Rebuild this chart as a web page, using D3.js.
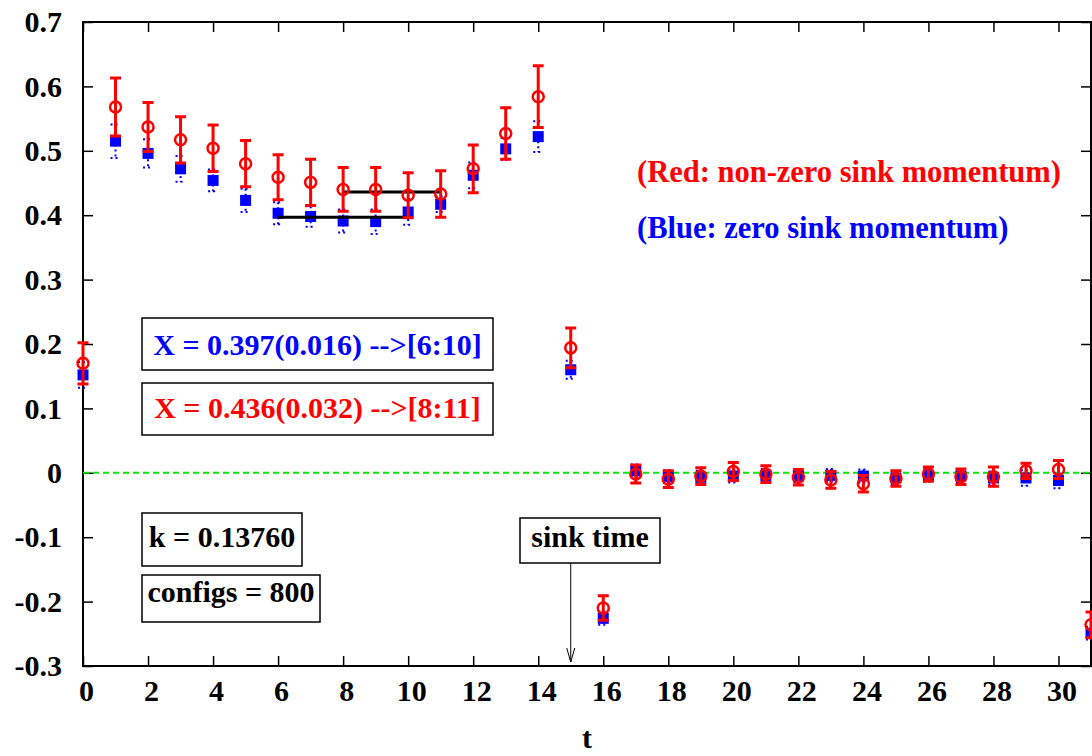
<!DOCTYPE html>
<html lang="en">
<head>
<meta charset="UTF-8">
<script src="https://d3js.org/d3.v7.min.js"></script>
<title>sink momentum plot</title>
<style>
body { margin: 0; background: #fff; }
svg text { font-family: "Liberation Serif", "Times New Roman", serif; font-weight: bold; }
</style>
</head>
<body>
<svg id="chart" width="1092" height="756"></svg>
<script>
// time slices
var tVals = d3.range(0, 32)

// red: non-zero sink momentum
var redVal = [0.170, 0.568, 0.537, 0.517, 0.504, 0.480, 0.459, 0.451, 0.440, 0.440, 0.431, 0.433,
              0.472, 0.527, 0.584, 0.194, -0.210, -0.002, -0.010, -0.005, 0.002, -0.002, -0.007,
              -0.011, -0.017, -0.009, -0.002, -0.006, -0.006, 0.003, 0.005, -0.236]
var redErr = [0.032, 0.045, 0.038, 0.036, 0.036, 0.036, 0.035, 0.036, 0.034, 0.034, 0.035, 0.036,
              0.037, 0.040, 0.048, 0.031, 0.019, 0.014, 0.013, 0.013, 0.014, 0.013, 0.012,
              0.013, 0.013, 0.012, 0.011, 0.012, 0.015, 0.012, 0.014, 0.020]

// blue: zero sink momentum
var blueVal = [0.152, 0.515, 0.496, 0.472, 0.454, 0.423, 0.403, 0.398, 0.391, 0.390, 0.405, 0.417,
               0.462, 0.503, 0.522, 0.160, -0.226, 0.003, -0.006, -0.007, -0.005, -0.004, -0.005,
               -0.004, -0.005, -0.008, -0.004, -0.005, -0.008, -0.008, -0.012, -0.249]
var blueErr = [0.020, 0.026, 0.022, 0.020, 0.017, 0.018, 0.017, 0.016, 0.018, 0.019, 0.020, 0.012,
               0.020, 0.017, 0.024, 0.014, 0.010, 0.010, 0.010, 0.010, 0.010, 0.010, 0.010,
               0.010, 0.010, 0.010, 0.010, 0.010, 0.010, 0.012, 0.012, 0.010]

// plateau fits
var fits = [
    {value: 0.397, from: 6, to: 10},
    {value: 0.436, from: 8, to: 11}
]

var xTicks = d3.range(0, 31, 2)
var yTicks = [-0.3, -0.2, -0.1, 0, 0.1, 0.2, 0.3, 0.4, 0.5, 0.6, 0.7]

var svg = d3.select("#chart"),
    margin = {top: 22, left: 83, right: 1091, bottom: 666}

var x = d3.scaleLinear().domain([0, 31]).range([margin.left, margin.right])
var y = d3.scaleLinear().domain([-0.3, 0.7]).range([margin.bottom, margin.top])

var fmt = d => d === 0 ? "0" : d.toFixed(1)

// axes with inward ticks, mirrored
svg.append("g")
    .attr("class", "x-axis")
    .attr("transform", `translate(0,${margin.bottom})`)
    .call(d3.axisBottom(x).tickValues(xTicks).tickSize(-10).tickPadding(14).tickFormat(d3.format("d")))
svg.append("g")
    .attr("transform", `translate(0,${margin.top})`)
    .call(d3.axisTop(x).tickValues(xTicks).tickSize(-10).tickFormat(""))
svg.append("g")
    .attr("transform", `translate(${margin.left},0)`)
    .call(d3.axisLeft(y).tickValues(yTicks).tickSize(-10).tickPadding(21).tickFormat(fmt))
svg.append("g")
    .attr("transform", `translate(${margin.right},0)`)
    .call(d3.axisRight(y).tickValues(yTicks).tickSize(-10).tickFormat(""))

svg.selectAll(".domain").remove()
svg.selectAll(".tick line").attr("stroke", "#000").attr("stroke-width", 1.5)
svg.selectAll(".tick text").attr("font-size", 30).attr("fill", "#000")
svg.selectAll(".x-axis .tick text").attr("dx", 3)

svg.append("rect")
    .attr("x", margin.left).attr("y", margin.top)
    .attr("width", margin.right - margin.left).attr("height", margin.bottom - margin.top)
    .attr("fill", "none").attr("stroke", "#000").attr("stroke-width", 2)

svg.append("text")
    .attr("x", (margin.left + margin.right) / 2).attr("y", 748)
    .attr("text-anchor", "middle").attr("font-size", 30)
    .text("t")

// zero line
svg.append("line")
    .attr("x1", x(0)).attr("x2", x(31)).attr("y1", y(0)).attr("y2", y(0))
    .attr("stroke", "#00e600").attr("stroke-width", 2).attr("stroke-dasharray", "6,4")

var blue = tVals.map((t, i) => ({t: t, v: blueVal[i], e: blueErr[i]}))
var red = tVals.map((t, i) => ({t: t, v: redVal[i], e: redErr[i]}))

// blue series
var gb = svg.append("g")
gb.selectAll(".bbar").data(blue).enter().append("path")
    .attr("d", d => `M${x(d.t)},${y(d.v + d.e)}V${y(d.v - d.e)}` +
        `M${x(d.t) - 5},${y(d.v + d.e)}h10M${x(d.t) - 5},${y(d.v - d.e)}h10`)
    .attr("stroke", "#0000ff").attr("stroke-width", 2).attr("stroke-dasharray", "2,3").attr("fill", "none")
gb.selectAll(".bpt").data(blue).enter().append("rect")
    .attr("x", d => x(d.t) - 5.5).attr("y", d => y(d.v) - 5.5)
    .attr("width", 11).attr("height", 11)
    .attr("fill", "#0000ff")

// fit lines
svg.selectAll(".fit").data(fits).enter().append("line")
    .attr("x1", d => x(d.from)).attr("x2", d => x(d.to))
    .attr("y1", d => y(d.value)).attr("y2", d => y(d.value))
    .attr("stroke", "#000").attr("stroke-width", 3)

// red series
var gr = svg.append("g")
gr.selectAll(".rbar").data(red).enter().append("path")
    .attr("d", d => `M${x(d.t)},${y(d.v + d.e)}V${y(d.v - d.e)}` +
        `M${x(d.t) - 5.5},${y(d.v + d.e)}h11M${x(d.t) - 5.5},${y(d.v - d.e)}h11`)
    .attr("stroke", "#ff0000").attr("stroke-width", 3).attr("fill", "none")
gr.selectAll(".rpt").data(red).enter().append("circle")
    .attr("cx", d => x(d.t)).attr("cy", d => y(d.v)).attr("r", 5.5)
    .attr("fill", "none").attr("stroke", "#ff0000").attr("stroke-width", 2.5)

// legend texts
svg.append("text").attr("x", 637).attr("y", 182).attr("font-size", 30.5).attr("fill", "#ff0000")
    .text("(Red: non-zero sink momentum)")
svg.append("text").attr("x", 637).attr("y", 238).attr("font-size", 30.5).attr("fill", "#0000ff")
    .text("(Blue: zero sink momentum)")

// boxed labels
var boxes = [
    {text: "X = 0.397(0.016) -->[6:10]", color: "#0000ff", x: 142, y: 318, w: 351, h: 52, ty: 355},
    {text: "X = 0.436(0.032) -->[8:11]", color: "#ff0000", x: 142, y: 383, w: 351, h: 52, ty: 418},
    {text: "k = 0.13760", color: "#000", x: 142, y: 513, w: 160, h: 53, ty: 547},
    {text: "configs = 800", color: "#000", x: 142, y: 575, w: 178, h: 47, ty: 602},
    {text: "sink time", color: "#000", x: 520, y: 518, w: 140, h: 45, ty: 547}
]
boxes.forEach(b => {
    svg.append("rect").attr("x", b.x).attr("y", b.y).attr("width", b.w).attr("height", b.h)
        .attr("fill", "#fff").attr("stroke", "#000").attr("stroke-width", 1.5)
    svg.append("text").attr("x", b.x + b.w / 2).attr("y", b.ty).attr("text-anchor", "middle")
        .attr("font-size", 30).attr("fill", b.color).text(b.text)
})

// sink time arrow
var ax = x(15)
svg.append("path")
    .attr("d", `M${ax},563V${margin.bottom - 4}M${ax - 4},${margin.bottom - 18}L${ax},${margin.bottom - 4}L${ax + 4},${margin.bottom - 18}`)
    .attr("stroke", "#000").attr("stroke-width", 1).attr("fill", "none")
</script>
</body>
</html>
